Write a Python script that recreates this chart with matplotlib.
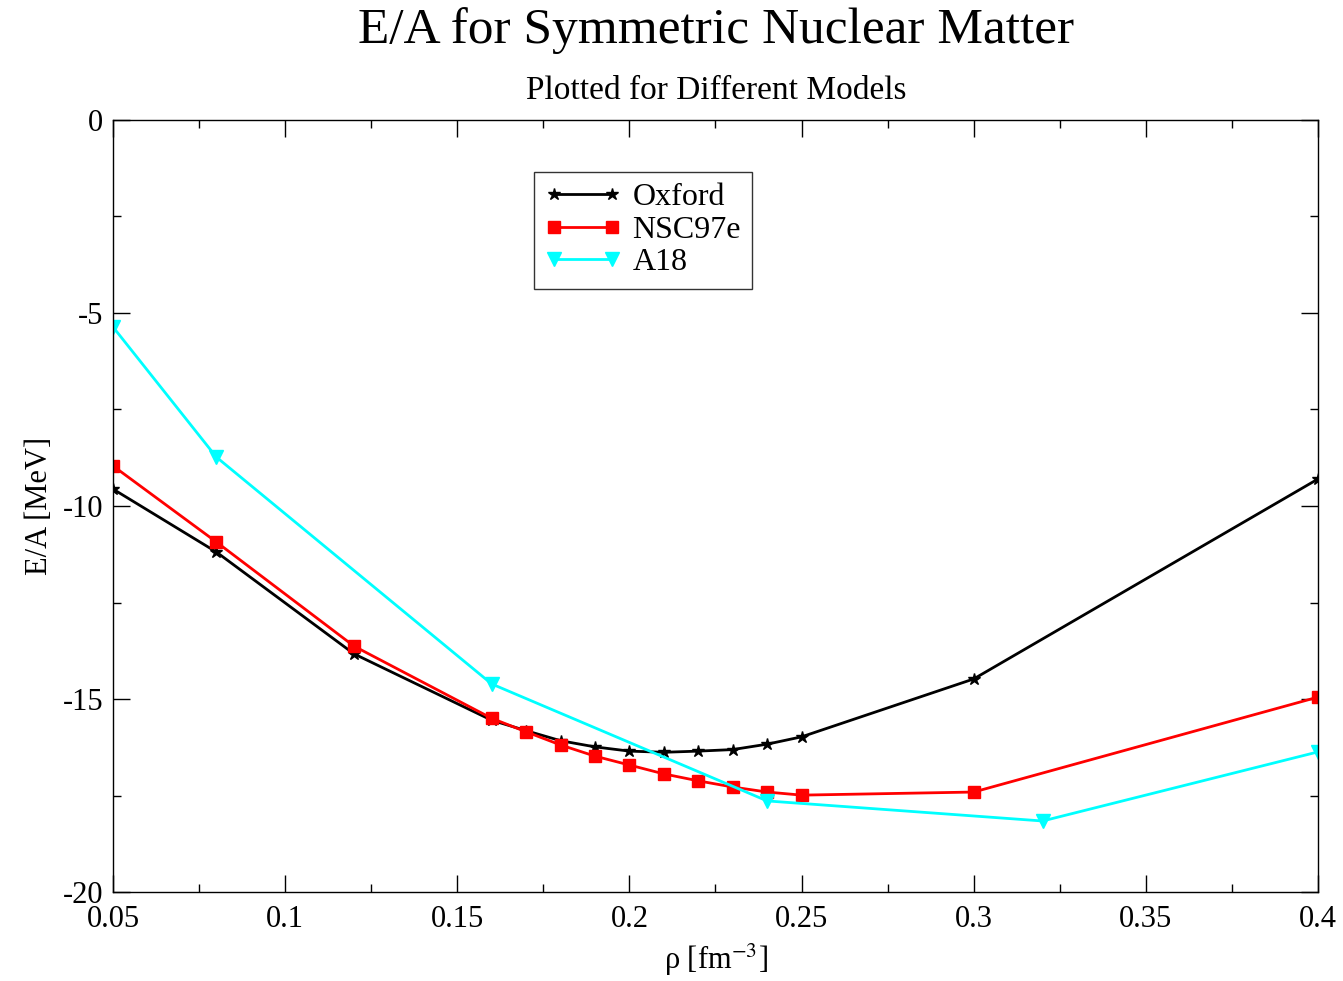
import matplotlib
matplotlib.use("Agg")
import matplotlib.pyplot as plt
from matplotlib.ticker import MultipleLocator

# datos
rho_oxford = [0.05, 0.08, 0.12, 0.16, 0.17, 0.18, 0.19, 0.20, 0.21, 0.22, 0.23, 0.24, 0.25, 0.30, 0.40]
ea_oxford = [-9.56, -11.19, -13.83, -15.55, -15.82, -16.08, -16.24, -16.35, -16.38, -16.35, -16.31, -16.17, -15.98, -14.48, -9.30]

rho_nsc = [0.05, 0.08, 0.12, 0.16, 0.17, 0.18, 0.19, 0.20, 0.21, 0.22, 0.23, 0.24, 0.25, 0.30, 0.40]
ea_nsc = [-8.96, -10.93, -13.63, -15.50, -15.85, -16.19, -16.48, -16.71, -16.94, -17.12, -17.28, -17.41, -17.49, -17.41, -14.95]

rho_a18 = [0.05, 0.08, 0.16, 0.24, 0.32, 0.40]
ea_a18 = [-5.36, -8.73, -14.61, -17.64, -18.16, -16.37]

x_ticks = [0.05, 0.1, 0.15, 0.2, 0.25, 0.3, 0.35, 0.4]
x_labels = ['0.05', '0.1', '0.15', '0.2', '0.25', '0.3', '0.35', '0.4']
y_ticks = [0, -5, -10, -15, -20]
y_labels = ['0', '-5', '-10', '-15', '-20']

plt.rcParams['font.family'] = ['Liberation Serif', 'DejaVu Serif']
plt.rcParams['mathtext.fontset'] = 'stix'

fig = plt.figure(figsize=(13.43, 9.81), dpi=100)
ax = fig.add_axes([0.0841, 0.0907, 0.8973, 0.787])

ax.plot(rho_oxford, ea_oxford, color='black', lw=2, marker='*', ms=9, label='Oxford')
ax.plot(rho_nsc, ea_nsc, color='red', lw=2, marker='s', ms=8, label='NSC97e')
ax.plot(rho_a18, ea_a18, color='cyan', lw=2, marker='v', ms=10, label='A18')

ax.set_xlim(0.05, 0.4)
ax.set_ylim(-20, 0)
ax.xaxis.set_minor_locator(MultipleLocator(0.025))
ax.yaxis.set_minor_locator(MultipleLocator(2.5))
ax.set_xticks(x_ticks)
ax.set_xticklabels(x_labels)
ax.set_yticks(y_ticks)
ax.set_yticklabels(y_labels)

ax.tick_params(which='both', direction='in', top=True, right=True, labelsize=22, width=1)
ax.tick_params(axis='x', which='major', pad=9)
ax.tick_params(axis='y', which='major', pad=7)
ax.tick_params(which='major', length=12)
ax.tick_params(which='minor', length=6)
for s in ax.spines.values():
    s.set_linewidth(1)

ax.set_xlabel('ρ [fm$^{-3}$]', fontsize=22, labelpad=6)
ax.set_ylabel('E/A [MeV]', fontsize=22, labelpad=6)

fig.text(0.533, 0.969, 'E/A for Symmetric Nuclear Matter', ha='center', va='center', fontsize=37)
fig.text(0.533, 0.908, 'Plotted for Different Models', ha='center', va='center', fontsize=24)

leg = ax.legend(loc='upper left', bbox_to_anchor=(0.349, 0.933), fontsize=23, frameon=True,
                fancybox=False, edgecolor='black', handlelength=2.4, borderpad=0.35,
                labelspacing=0.1, handletextpad=0.35, borderaxespad=0, numpoints=2)
leg.get_frame().set_linewidth(1)

plt.savefig('out.png', dpi=100)
